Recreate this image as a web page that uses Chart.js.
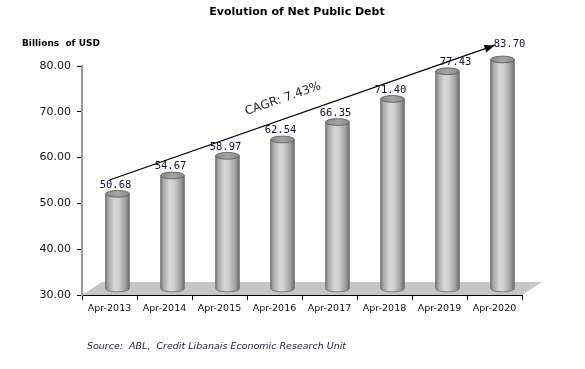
<!DOCTYPE html>
<html>
<head>
<meta charset="utf-8">
<script src="https://cdn.jsdelivr.net/npm/chart.js@4.4.1/dist/chart.umd.min.js"></script>
<style>
  html, body { margin: 0; padding: 0; background: #fff; }
  canvas { display: block; }
</style>
</head>
<body>
<canvas id="debtChart" width="585" height="369"></canvas>
<script>
const years = ['Apr-2013', 'Apr-2014', 'Apr-2015', 'Apr-2016', 'Apr-2017', 'Apr-2018', 'Apr-2019', 'Apr-2020'];
const netDebt = [50.68, 54.67, 58.97, 62.54, 66.35, 71.40, 77.43, 83.70];
// trend arrow drawn over the bars (start / end only)
const cagrLine = [55.1, null, null, null, null, null, null, 84.5];
const cagrText = 'CAGR: 7.43%';
const yMin = 30, yMax = 80, yStep = 10;

const ctx = document.getElementById('debtChart');

// 3D look: floor + cylinders + labels + texts
const cylinderPlugin = {
  id: 'cylinders',
  beforeDatasetsDraw(chart) {
    const c = chart.ctx, a = chart.chartArea;
    const dx = 20, dy = 13;
    c.save();
    c.fillStyle = '#c6c6c6';
    c.beginPath();
    c.moveTo(a.left, a.bottom);
    c.lineTo(a.left + dx, a.bottom - dy);
    c.lineTo(a.right + dx, a.bottom - dy);
    c.lineTo(a.right, a.bottom);
    c.closePath();
    c.fill();

    const meta = chart.getDatasetMeta(0);
    meta.data.forEach((bar) => {
      const w = bar.width, rx = w / 2, ry = 3.4;
      const cx = bar.x + 8;
      const l = cx - rx, r = cx + rx;
      const top = Math.max(bar.y, a.top) - 6.5;
      const bottom = a.bottom - 6.5;
      const g = c.createLinearGradient(l, 0, r, 0);
      g.addColorStop(0, '#7a7a7a');
      g.addColorStop(0.12, '#a9a9a9');
      g.addColorStop(0.38, '#d8d8d8');
      g.addColorStop(0.55, '#d0d0d0');
      g.addColorStop(0.85, '#9c9c9c');
      g.addColorStop(1, '#6c6c6c');
      c.beginPath();
      c.moveTo(l, top);
      c.lineTo(l, bottom);
      c.ellipse(cx, bottom, rx, ry, 0, Math.PI, 0, true);
      c.lineTo(r, top);
      c.closePath();
      c.fillStyle = g;
      c.fill();
      c.lineWidth = 0.8;
      c.strokeStyle = '#666';
      c.stroke();
      // top cap
      const tg = c.createLinearGradient(l, 0, r, 0);
      tg.addColorStop(0, '#8a8a8a');
      tg.addColorStop(0.5, '#a4a4a4');
      tg.addColorStop(1, '#8a8a8a');
      c.beginPath();
      c.ellipse(cx, top, rx, ry, 0, 0, Math.PI * 2);
      c.fillStyle = tg;
      c.fill();
      c.strokeStyle = '#555';
      c.stroke();
    });
    c.restore();
  },
  afterDatasetsDraw(chart) {
    const c = chart.ctx, a = chart.chartArea;
    c.save();
    // value labels
    const nudge = { 6: [10, 0], 7: [9, -6] };
    const meta = chart.getDatasetMeta(0);
    c.font = '10.5px "DejaVu Sans Mono"';
    c.fillStyle = '#101030';
    c.textAlign = 'center';
    c.textBaseline = 'bottom';
    meta.data.forEach((bar, i) => {
      const n = nudge[i] || [0, 0];
      const top = Math.max(bar.y, a.top) - 6.5;
      c.fillText(netDebt[i].toFixed(2), bar.x + 6 + n[0], top - 3.5 + n[1]);
    });
    // arrow head at the end of the trend line
    const lm = chart.getDatasetMeta(1);
    const p0 = lm.data[0], p1 = lm.data[lm.data.length - 1];
    const ang = Math.atan2(p1.y - p0.y, p1.x - p0.x);
    c.translate(p1.x, p1.y);
    c.rotate(ang);
    c.beginPath();
    c.moveTo(0, 0);
    c.lineTo(-10, -4);
    c.lineTo(-10, 4);
    c.closePath();
    c.fillStyle = '#000';
    c.fill();
    c.restore();

    // CAGR label along the arrow
    c.save();
    c.translate(283, 99);
    c.rotate(ang);
    c.font = '12px "DejaVu Sans"';
    c.fillStyle = '#222';
    c.textAlign = 'center';
    c.textBaseline = 'middle';
    c.fillText(cagrText, 0, 0);
    c.restore();
  },
  afterDraw(chart) {
    const c = chart.ctx;
    c.save();
    c.fillStyle = '#000';
    c.textBaseline = 'middle';
    c.textAlign = 'center';
    c.font = 'bold 11px "DejaVu Sans"';
    c.fillText('Evolution of Net Public Debt', 297, 12);
    c.textAlign = 'left';
    c.font = 'bold 9px "DejaVu Sans"';
    c.fillText('Billions  of USD', 22, 44);
    c.fillStyle = '#1a1a3a';
    c.font = 'italic 9.5px "DejaVu Sans"';
    c.fillText('Source:  ABL,  Credit Libanais Economic Research Unit', 87, 347);
    c.restore();
  }
};

new Chart(ctx, {
  type: 'bar',
  data: {
    labels: years,
    datasets: [{
      label: 'Net Public Debt',
      data: netDebt,
      backgroundColor: 'rgba(0,0,0,0)',
      borderWidth: 0,
      categoryPercentage: 1,
      barPercentage: 0.43,
      order: 2
    }, {
      type: 'line',
      label: 'CAGR',
      data: cagrLine,
      spanGaps: true,
      borderColor: '#000',
      borderWidth: 1.2,
      pointRadius: 0,
      fill: false,
      clip: false,
      order: 1
    }]
  },
  options: {
    responsive: false,
    animation: false,
    layout: { padding: { top: 66, right: 63, left: 0, bottom: 0 } },
    plugins: {
      legend: { display: false },
      title: { display: false },
      tooltip: { enabled: false }
    },
    scales: {
      x: {
        afterFit(scale) { scale.height = 74; },
        grid: { display: true, drawOnChartArea: false, color: '#000', tickLength: 5 },
        border: { color: '#000', width: 1 },
        ticks: {
          color: '#111',
          font: { family: 'DejaVu Sans', size: 9.5 },
          padding: 3,
          maxRotation: 0,
          autoSkip: false
        }
      },
      y: {
        min: yMin,
        max: yMax,
        afterFit(scale) { scale.width = 82; },
        grid: { display: true, drawOnChartArea: false, color: '#000', tickLength: 5 },
        border: { color: '#9a9a9a', width: 2 },
        ticks: {
          stepSize: yStep,
          color: '#111',
          font: { family: 'DejaVu Sans', size: 11 },
          padding: 6,
          callback: (v) => Number(v).toFixed(2)
        }
      }
    }
  },
  plugins: [cylinderPlugin]
});
</script>
</body>
</html>
